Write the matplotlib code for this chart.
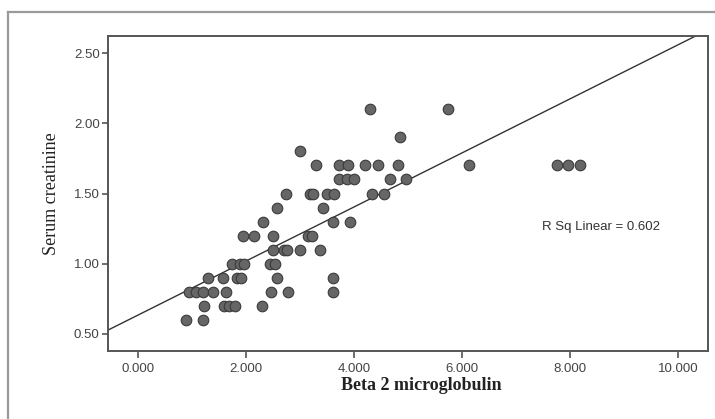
import numpy as np
import matplotlib
matplotlib.use("Agg")
import matplotlib.pyplot as plt
from matplotlib.lines import Line2D

# Data (Beta 2 microglobulin vs Serum creatinine)
beta2 = [4.29, 5.74,
         4.85,
         3.00,
         3.30, 3.71, 3.88, 4.20, 4.44, 4.81, 6.13, 7.75, 7.96, 8.18,
         3.71, 3.86, 4.00, 4.67, 4.96,
         2.74, 3.18, 3.24, 3.49, 3.62, 4.32, 4.55,
         2.56, 3.42,
         2.31, 3.60, 3.92,
         1.94, 2.14, 2.50, 3.15, 3.22,
         2.50, 2.69, 2.76, 2.99, 3.36,
         1.73, 1.88, 1.95, 2.44, 2.53,
         1.30, 1.57, 1.82, 1.90, 2.56, 3.60,
         0.94, 1.06, 1.20, 1.38, 1.62, 2.45, 2.78, 3.60,
         1.22, 1.58, 1.68, 1.79, 2.30,
         0.88, 1.19]
creatinine = [2.1, 2.1,
              1.9,
              1.8,
              1.7, 1.7, 1.7, 1.7, 1.7, 1.7, 1.7, 1.7, 1.7, 1.7,
              1.6, 1.6, 1.6, 1.6, 1.6,
              1.5, 1.5, 1.5, 1.5, 1.5, 1.5, 1.5,
              1.4, 1.4,
              1.3, 1.3, 1.3,
              1.2, 1.2, 1.2, 1.2, 1.2,
              1.1, 1.1, 1.1, 1.1, 1.1,
              1.0, 1.0, 1.0, 1.0, 1.0,
              0.9, 0.9, 0.9, 0.9, 0.9, 0.9,
              0.8, 0.8, 0.8, 0.8, 0.8, 0.8, 0.8, 0.8,
              0.7, 0.7, 0.7, 0.7, 0.7,
              0.6, 0.6]
x_ticks = [0, 2, 4, 6, 8, 10]
x_labels = ["0.000", "2.000", "4.000", "6.000", "8.000", "10.000"]
y_ticks = [0.5, 1.0, 1.5, 2.0, 2.5]
y_labels = ["0.50", "1.00", "1.50", "2.00", "2.50"]
r2_text = "R Sq Linear = 0.602"

x = np.array(beta2)
y = np.array(creatinine)

fig = plt.figure(figsize=(7.15, 4.19), dpi=100)
ax = fig.add_axes([108/715, 1-351/419, 600/715, 315/419])

# Outer frame (gray) as in the reference
fig.add_artist(Line2D([8/715, 8/715], [0, 1-12/419], transform=fig.transFigure,
                      color="#9a9a9a", lw=1.6))
fig.add_artist(Line2D([8/715, 1], [1-12/419, 1-12/419], transform=fig.transFigure,
                      color="#9a9a9a", lw=1.6))

xmin, xmax = -0.561, 10.55
ymin, ymax = 0.379, 2.621
ax.set_xlim(xmin, xmax)
ax.set_ylim(ymin, ymax)

ax.scatter(x, y, s=58, facecolor="#666666", edgecolor="#3a3a3a", linewidth=0.8, zorder=3)

slope, intercept = np.polyfit(x, y, 1)
xs = np.linspace(xmin, xmax, 200)
ax.plot(xs, intercept + slope * xs, color="#333333", lw=1.0, zorder=2)

ax.text(542/715, 1-227/419, r2_text, transform=fig.transFigure,
        fontsize=9.5, family="Liberation Sans", color="#333333", va="center", ha="left")

for s in ax.spines.values():
    s.set_color("#555555")
    s.set_linewidth(1.4)

ax.set_xticks(x_ticks)
ax.set_xticklabels(x_labels)
ax.set_yticks(y_ticks)
ax.set_yticklabels(y_labels)
ax.tick_params(axis="x", direction="out", length=5, width=1.2, color="#555555",
               labelsize=9.5, labelcolor="#444444", pad=4)
ax.tick_params(axis="y", direction="out", length=4, width=1.2, color="#555555",
               labelsize=9.5, labelcolor="#444444", pad=2)
for lbl in ax.get_xticklabels() + ax.get_yticklabels():
    lbl.set_family("Liberation Sans")

ax.set_xlabel("Beta 2 microglobulin", family="Liberation Serif", fontweight="bold",
              fontsize=13, color="#222222")
ax.xaxis.set_label_coords((421-108)/600, (351-385)/315)
ax.xaxis.label.set_va("center")
ax.set_ylabel("Serum creatinine", family="Liberation Serif",
              fontsize=13, color="#222222")
ax.yaxis.set_label_coords((52-108)/600, 0.5)
ax.yaxis.label.set_va("center")

fig.savefig("out.png", dpi=100)
